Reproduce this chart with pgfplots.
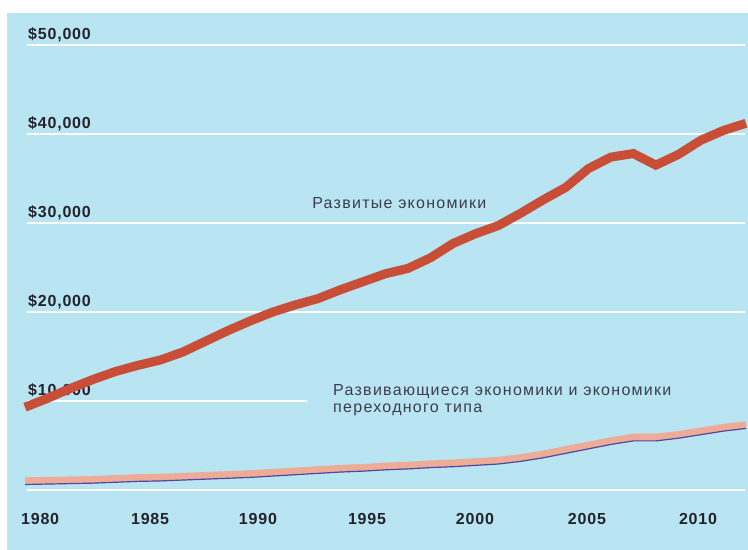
\documentclass[border=0pt]{standalone}
\usepackage{pgfplots}
\pgfplotsset{compat=1.18}
\usepackage{fontspec}
\setmainfont{Liberation Sans}
\newfontfamily\lblfont[LetterSpace=5]{Liberation Sans Bold}
\newfontfamily\annfont[LetterSpace=8]{Liberation Sans}
\definecolor{bg}{RGB}{185,228,241}
\definecolor{redl}{RGB}{200,78,55}
\definecolor{pinkl}{RGB}{238,172,152}
\definecolor{bluel}{RGB}{75,75,165}
\definecolor{txt}{RGB}{60,62,75}
\definecolor{lbl}{RGB}{35,35,45}
\pgfplotstableread{
year val
1980 9300
1981 10300
1982 11400
1983 12400
1984 13300
1985 14000
1986 14600
1987 15500
1988 16700
1989 17900
1990 19000
1991 20000
1992 20800
1993 21500
1994 22500
1995 23400
1996 24300
1997 24900
1998 26100
1999 27700
2000 28800
2001 29700
2002 31100
2003 32600
2004 34000
2005 36100
2006 37400
2007 37800
2008 36500
2009 37700
2010 39300
2011 40400
2012 41200
}\developed
\pgfplotstableread{
year val
1980 1000
1981 1050
1982 1100
1983 1150
1984 1250
1985 1350
1986 1400
1987 1500
1988 1600
1989 1700
1990 1800
1991 1950
1992 2100
1993 2250
1994 2400
1995 2500
1996 2650
1997 2750
1998 2900
1999 3000
2000 3150
2001 3300
2002 3600
2003 4000
2004 4500
2005 5000
2006 5500
2007 5900
2008 5900
2009 6200
2010 6600
2011 7000
2012 7300
}\developing
\begin{document}
\begin{tikzpicture}[x=1bp,y=1bp]
\useasboundingbox (0,0) rectangle (748,550);
\fill[bg] (7,0) rectangle (748,537);
\begin{axis}[
  at={(7bp,0bp)}, anchor=south west,
  scale only axis, width=741bp, height=537bp,
  xmin=1979.2, xmax=2012.09, ymin=-6742, ymax=53596,
  axis line style={draw=none}, major tick length=0pt, tick style={draw=none},
  clip=false, scaled y ticks=false, scaled x ticks=false,
  ytick={10000,20000,30000,40000,50000},
  yticklabels={{\$10,000},{\$20,000},{\$30,000},{\$40,000},{\$50,000}},
  yticklabel style={anchor=south west, inner sep=0pt, xshift=21bp, yshift=3bp,
    font=\lblfont\fontsize{16bp}{19bp}\selectfont, text=lbl},
  xtick={1980.67,1985.55,1990.34,1995.18,1999.97,2004.94,2009.87},
  xticklabels={1980,1985,1990,1995,2000,2005,2010},
  xticklabel style={anchor=center, inner sep=0pt, yshift=31bp,
    font=\lblfont\fontsize{16bp}{19bp}\selectfont, text=lbl},
]
\draw[white, line width=2.2bp] (axis cs:1980.09,0) -- (axis cs:2011.96,0);
\draw[white, line width=2.2bp] (axis cs:1980.09,10000) -- (axis cs:1992.52,10000);
\draw[white, line width=2.2bp] (axis cs:1980.09,20000) -- (axis cs:2011.96,20000);
\draw[white, line width=2.2bp] (axis cs:1980.09,30000) -- (axis cs:2011.96,30000);
\draw[white, line width=2.2bp] (axis cs:1980.09,40000) -- (axis cs:2011.96,40000);
\draw[white, line width=2.2bp] (axis cs:1980.09,50000) -- (axis cs:2011.96,50000);
\addplot[pinkl, line width=7.5bp] table[x=year,y=val] {\developing};
\addplot[bluel, line width=1.2bp, yshift=-3.4bp] table[x=year,y=val] {\developing};
\addplot[redl, line width=9bp] table[x=year,y=val] {\developed};
\node[anchor=west, inner sep=0pt, text=txt, font=\annfont\fontsize{16bp}{19bp}\selectfont]
  at (axis cs:1992.74,32247) {Развитые экономики};
\node[anchor=west, inner sep=0pt, text=txt, font=\annfont\fontsize{16bp}{19bp}\selectfont]
  at (axis cs:1993.67,11011) {Развивающиеся экономики и экономики};
\node[anchor=west, inner sep=0pt, text=txt, font=\annfont\fontsize{16bp}{19bp}\selectfont]
  at (axis cs:1993.67,8989) {переходного типа};
\end{axis}
\end{tikzpicture}
\end{document}
